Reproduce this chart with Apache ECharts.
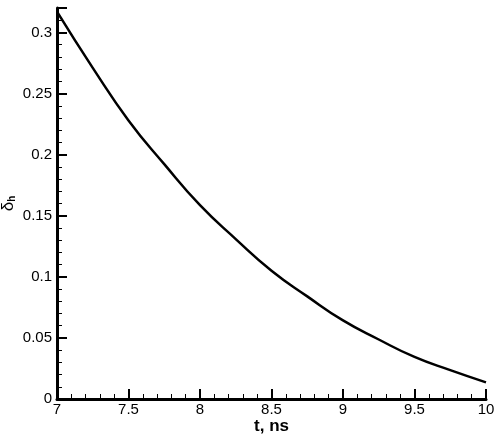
<!DOCTYPE html>
<html><head><meta charset="utf-8">
<script src="https://cdn.jsdelivr.net/npm/echarts@6/dist/echarts.min.js"></script>
<style>html,body{margin:0;padding:0;background:#fff}#c{width:498px;height:438px}</style>
</head><body><div id="c"></div>
<script>
const times = [7, 7.25, 7.5, 7.75, 8, 8.25, 8.5, 8.75, 9, 9.25, 9.5, 9.75, 10];
const deltaH = [0.317, 0.271, 0.228, 0.1922, 0.1586, 0.1309, 0.105, 0.084, 0.0643, 0.0487, 0.0344, 0.0236, 0.0136];
const xLabelName = 't, ns';
const yLabelMain = 'δ';
const yLabelSub = 'h';

const font = 'Liberation Sans, Arial, Helvetica, sans-serif';
const chart = echarts.init(document.getElementById('c'));
const axisCommon = {
  axisLine: {show: true, onZero: false, lineStyle: {color: '#000', width: 3}},
  axisTick: {show: true, inside: true, length: 10, lineStyle: {color: '#000', width: 2}},
  minorTick: {show: true, splitNumber: 5, length: 5, lineStyle: {color: '#000', width: 1}},
  splitLine: {show: false},
  axisLabel: {color: '#000', fontFamily: font, fontSize: 15}
};
chart.setOption({
  animation: false,
  backgroundColor: '#fff',
  grid: {left: 57, right: 12, top: 8, bottom: 39, containLabel: false, outerBoundsMode: 'none'},
  xAxis: Object.assign({}, axisCommon, {
    type: 'value', min: 7, max: 10, interval: 0.5,
    name: xLabelName, nameLocation: 'middle', nameGap: 19, nameMoveOverlap: false,
    nameTextStyle: {color: '#000', fontFamily: font, fontSize: 17, fontWeight: 'bold', verticalAlign: 'top'},
    axisLabel: Object.assign({}, axisCommon.axisLabel, {margin: 3})
  }),
  yAxis: Object.assign({}, axisCommon, {
    type: 'value', min: 0, max: 0.32, interval: 0.05,
    name: '{d|' + yLabelMain + '}{s|' + yLabelSub + '}', nameLocation: 'middle', nameGap: 40, nameRotate: 90, nameMoveOverlap: false,
    nameTextStyle: {color: '#000', fontFamily: font,
      rich: {d: {fontSize: 17, fontFamily: font, color: '#000'}, s: {fontSize: 10, fontFamily: font, color: '#000', fontWeight: 'bold', verticalAlign: 'bottom', padding: [8, 0, 0, 0]}}},
    axisLabel: Object.assign({}, axisCommon.axisLabel, {margin: 5, showMaxLabel: false})
  }),
  series: [{
    type: 'line', smooth: true, symbol: 'none',
    data: times.map((t, i) => [t, deltaH[i]]),
    lineStyle: {color: '#000', width: 2.5}
  }]
});
</script></body></html>
